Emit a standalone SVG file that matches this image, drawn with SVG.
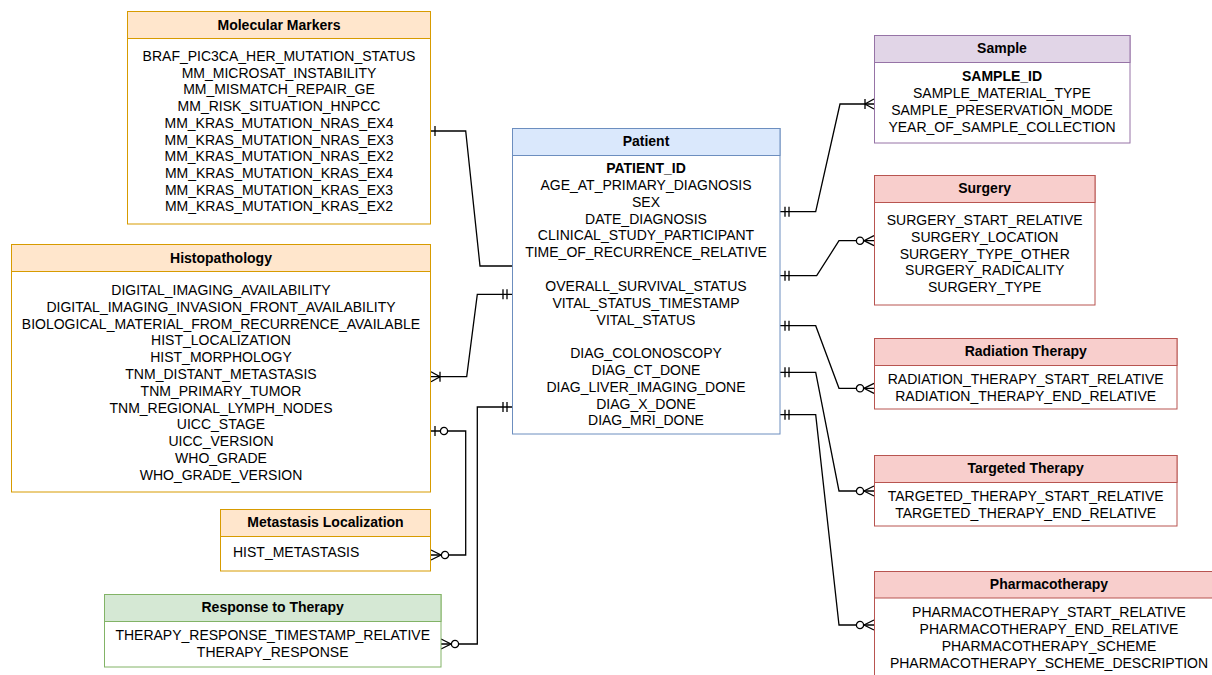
<svg xmlns="http://www.w3.org/2000/svg" width="1212" height="675" viewBox="0 0 1212 675">
<style>
text{font-family:"Liberation Sans",Arial,Helvetica,sans-serif;font-size:14px;fill:#000;text-anchor:middle}
.h{font-weight:bold}
.b{font-weight:bold}
.l{text-anchor:start}
.box{fill:#fff;stroke-width:1}
.or .hd{fill:#ffe6cc;stroke:#d79b00}.or .box,.or .sep{stroke:#d79b00}
.bl .hd{fill:#dae8fc;stroke:#6c8ebf}.bl .box,.bl .sep{stroke:#6c8ebf}
.pu .hd{fill:#e1d5e7;stroke:#9673a6}.pu .box,.pu .sep{stroke:#9673a6}
.re .hd{fill:#f8cecc;stroke:#b85450}.re .box,.re .sep{stroke:#b85450}
.gr .hd{fill:#d5e8d4;stroke:#82b366}.gr .box,.gr .sep{stroke:#82b366}
.c{fill:none;stroke:#000;stroke-width:1.3}
.m{fill:none;stroke:#000;stroke-width:1.3}
.mc{fill:#fff;stroke:#000;stroke-width:1.3}
</style>
<defs>
<marker id="mandOne" markerUnits="userSpaceOnUse" viewBox="-20 -8 22 16" markerWidth="22" markerHeight="16" refX="0" refY="0" orient="auto-start-reverse" overflow="visible">
<path class="m" d="M-5,-5V5M-9,-5V5"/>
</marker>
<marker id="one" markerUnits="userSpaceOnUse" viewBox="-20 -8 22 16" markerWidth="22" markerHeight="16" refX="0" refY="0" orient="auto-start-reverse" overflow="visible">
<path class="m" d="M-4,-5V5"/>
</marker>
<marker id="oneToMany" markerUnits="userSpaceOnUse" viewBox="-20 -8 22 16" markerWidth="22" markerHeight="16" refX="0" refY="0" orient="auto-start-reverse" overflow="visible">
<path class="m" d="M0,-5L-9,0L0,5M-9,-5V5"/>
</marker>
<marker id="zeroToMany" markerUnits="userSpaceOnUse" viewBox="-20 -8 22 16" markerWidth="22" markerHeight="16" refX="0" refY="0" orient="auto-start-reverse" overflow="visible">
<path class="m" d="M0,-5L-10,0L0,5"/>
<circle class="mc" cx="-14" cy="0" r="3.6"/>
</marker>
<marker id="zeroToOne" markerUnits="userSpaceOnUse" viewBox="-20 -8 22 16" markerWidth="22" markerHeight="16" refX="0" refY="0" orient="auto-start-reverse" overflow="visible">
<path class="m" d="M-4,-5V5"/>
<circle class="mc" cx="-13" cy="0" r="3.6"/>
</marker>
</defs>

<g id="connectors">
<path class="c" d="M431,131H465.7L480,266H512" marker-start="url(#one)"/>
<path class="c" d="M512,294.3H477.3L466.7,376.7H431" marker-start="url(#mandOne)" marker-end="url(#oneToMany)"/>
<path class="c" d="M431,431H465.7V555H431" marker-start="url(#zeroToOne)" marker-end="url(#zeroToMany)"/>
<path class="c" d="M512,407H477.3V644H441" marker-start="url(#mandOne)" marker-end="url(#zeroToMany)"/>
<path class="c" d="M780,211.7H815.7L840,104H874" marker-start="url(#mandOne)" marker-end="url(#oneToMany)"/>
<path class="c" d="M780,275.7H816.7L839,240.7H874" marker-start="url(#mandOne)" marker-end="url(#zeroToMany)"/>
<path class="c" d="M780,325.7H815.7L839,388.3H874" marker-start="url(#mandOne)" marker-end="url(#zeroToMany)"/>
<path class="c" d="M780,372.3H815.7L839,491H874" marker-start="url(#mandOne)" marker-end="url(#zeroToMany)"/>
<path class="c" d="M780,414.7H815.7L839,625H874" marker-start="url(#mandOne)" marker-end="url(#zeroToMany)"/>
</g>

<g id="molecular-markers" class="or">
<rect class="box" x="127.5" y="11.5" width="303" height="212.5"/>
<rect class="hd" x="127.5" y="11.5" width="303" height="27"/>
<text class="h" x="279" y="30">Molecular Markers</text>
<text x="279" y="61">BRAF_PIC3CA_HER_MUTATION_STATUS</text>
<text x="279" y="77.7">MM_MICROSAT_INSTABILITY</text>
<text x="279" y="94.4">MM_MISMATCH_REPAIR_GE</text>
<text x="279" y="111.1">MM_RISK_SITUATION_HNPCC</text>
<text x="279" y="127.8">MM_KRAS_MUTATION_NRAS_EX4</text>
<text x="279" y="144.5">MM_KRAS_MUTATION_NRAS_EX3</text>
<text x="279" y="161.2">MM_KRAS_MUTATION_NRAS_EX2</text>
<text x="279" y="177.9">MM_KRAS_MUTATION_KRAS_EX4</text>
<text x="279" y="194.6">MM_KRAS_MUTATION_KRAS_EX3</text>
<text x="279" y="211.3">MM_KRAS_MUTATION_KRAS_EX2</text>
</g>

<g id="histopathology" class="or">
<rect class="box" x="11.5" y="244.5" width="419" height="247.5"/>
<rect class="hd" x="11.5" y="244.5" width="419" height="27"/>
<text class="h" x="221" y="263">Histopathology</text>
<text x="221" y="295">DIGITAL_IMAGING_AVAILABILITY</text>
<text x="221" y="311.8">DIGITAL_IMAGING_INVASION_FRONT_AVAILABILITY</text>
<text x="221" y="328.6">BIOLOGICAL_MATERIAL_FROM_RECURRENCE_AVAILABLE</text>
<text x="221" y="345.4">HIST_LOCALIZATION</text>
<text x="221" y="362.2">HIST_MORPHOLOGY</text>
<text x="221" y="379">TNM_DISTANT_METASTASIS</text>
<text x="221" y="395.8">TNM_PRIMARY_TUMOR</text>
<text x="221" y="412.6">TNM_REGIONAL_LYMPH_NODES</text>
<text x="221" y="429.4">UICC_STAGE</text>
<text x="221" y="446.2">UICC_VERSION</text>
<text x="221" y="463">WHO_GRADE</text>
<text x="221" y="479.8">WHO_GRADE_VERSION</text>
</g>

<g id="metastasis-localization" class="or">
<rect class="box" x="220.5" y="509.5" width="210" height="61.5"/>
<rect class="hd" x="220.5" y="509.5" width="210" height="27"/>
<text class="h" x="325.5" y="527">Metastasis Localization</text>
<text class="l" x="233" y="557">HIST_METASTASIS</text>
</g>

<g id="response-to-therapy" class="gr">
<rect class="box" x="104.5" y="594.5" width="336.5" height="72.5"/>
<rect class="hd" x="104.5" y="594.5" width="336.5" height="27"/>
<text class="h" x="272.7" y="612">Response to Therapy</text>
<text x="272.7" y="640">THERAPY_RESPONSE_TIMESTAMP_RELATIVE</text>
<text x="272.7" y="657">THERAPY_RESPONSE</text>
</g>

<g id="patient" class="bl">
<rect class="box" x="512.5" y="128.5" width="267.5" height="305.5"/>
<rect class="hd" x="512.5" y="128.5" width="267.5" height="27"/>
<text class="h" x="646" y="146">Patient</text>
<text class="b" x="646" y="173">PATIENT_ID</text>
<text x="646" y="190">AGE_AT_PRIMARY_DIAGNOSIS</text>
<text x="646" y="206.8">SEX</text>
<text x="646" y="223.6">DATE_DIAGNOSIS</text>
<text x="646" y="240.4">CLINICAL_STUDY_PARTICIPANT</text>
<text x="646" y="257.2">TIME_OF_RECURRENCE_RELATIVE</text>
<text x="646" y="291.2">OVERALL_SURVIVAL_STATUS</text>
<text x="646" y="308">VITAL_STATUS_TIMESTAMP</text>
<text x="646" y="324.8">VITAL_STATUS</text>
<text x="646" y="358.2">DIAG_COLONOSCOPY</text>
<text x="646" y="375">DIAG_CT_DONE</text>
<text x="646" y="391.8">DIAG_LIVER_IMAGING_DONE</text>
<text x="646" y="408.6">DIAG_X_DONE</text>
<text x="646" y="425.4">DIAG_MRI_DONE</text>
</g>

<g id="sample" class="pu">
<rect class="box" x="874.5" y="35.5" width="255.5" height="107.5"/>
<rect class="hd" x="874.5" y="35.5" width="255.5" height="27"/>
<text class="h" x="1002" y="53">Sample</text>
<text class="b" x="1002" y="81">SAMPLE_ID</text>
<text x="1002" y="98">SAMPLE_MATERIAL_TYPE</text>
<text x="1002" y="115">SAMPLE_PRESERVATION_MODE</text>
<text x="1002" y="132">YEAR_OF_SAMPLE_COLLECTION</text>
</g>

<g id="surgery" class="re">
<rect class="box" x="874.5" y="175.5" width="220.5" height="129.5"/>
<rect class="hd" x="874.5" y="175.5" width="220.5" height="27"/>
<text class="h" x="984.7" y="193">Surgery</text>
<text x="984.7" y="225">SURGERY_START_RELATIVE</text>
<text x="984.7" y="241.8">SURGERY_LOCATION</text>
<text x="984.7" y="258.6">SURGERY_TYPE_OTHER</text>
<text x="984.7" y="275.4">SURGERY_RADICALITY</text>
<text x="984.7" y="292.2">SURGERY_TYPE</text>
</g>

<g id="radiation-therapy" class="re">
<rect class="box" x="874.5" y="338.5" width="302.5" height="70.5"/>
<rect class="hd" x="874.5" y="338.5" width="302.5" height="27"/>
<text class="h" x="1025.7" y="356">Radiation Therapy</text>
<text x="1025.7" y="384">RADIATION_THERAPY_START_RELATIVE</text>
<text x="1025.7" y="401">RADIATION_THERAPY_END_RELATIVE</text>
</g>

<g id="targeted-therapy" class="re">
<rect class="box" x="874.5" y="455.5" width="302.5" height="70.5"/>
<rect class="hd" x="874.5" y="455.5" width="302.5" height="27"/>
<text class="h" x="1025.7" y="473">Targeted Therapy</text>
<text x="1025.7" y="501">TARGETED_THERAPY_START_RELATIVE</text>
<text x="1025.7" y="518">TARGETED_THERAPY_END_RELATIVE</text>
</g>

<g id="pharmacotherapy" class="re">
<rect class="box" x="874.5" y="571.5" width="350" height="120"/>
<rect class="hd" x="874.5" y="571.5" width="350" height="26.5"/>
<text class="h" x="1049" y="589">Pharmacotherapy</text>
<text x="1049" y="617">PHARMACOTHERAPY_START_RELATIVE</text>
<text x="1049" y="634">PHARMACOTHERAPY_END_RELATIVE</text>
<text x="1049" y="651">PHARMACOTHERAPY_SCHEME</text>
<text x="1049" y="668">PHARMACOTHERAPY_SCHEME_DESCRIPTION</text>
</g>
</svg>
